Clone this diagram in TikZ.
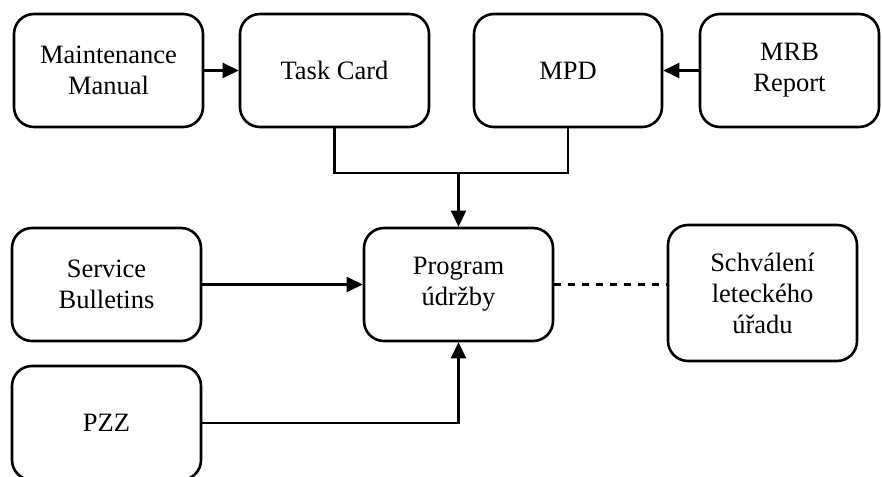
\documentclass[tikz,border=0pt]{standalone}
\usepackage{fontspec}
\setmainfont{Liberation Serif}
\usetikzlibrary{arrows.meta}
\begin{document}
\begin{tikzpicture}[x=1pt,y=-1pt,
  box/.style={draw=black, line width=2.6pt, rounded corners=20pt, fill=white,
    inner sep=0pt, align=center,
    font=\fontsize{26.5}{31}\selectfont},
  link/.style={line width=2.4pt, draw=black},
  arr/.style={link, -{Triangle[length=16pt,width=15pt]}},
  dashlink/.style={line width=2.3pt, dash pattern=on 7pt off 7pt}]
  \useasboundingbox (0,0) rectangle (882,476);
  \clip (0,0) rectangle (882,476);

  % upper row
  \node[box, minimum width=189pt, minimum height=113pt] (mm)  at (108.5,70.5) {Maintenance\\Manual};
  \node[box, minimum width=189pt, minimum height=113pt] (tc)  at (334.5,70.5) {Task Card};
  \node[box, minimum width=188pt, minimum height=113pt] (mpd) at (568,70.5) {MPD};
  \node[box, minimum width=179pt, minimum height=113pt] (mrb) at (789.5,70.5) {MRB\\Report};

  % middle row
  \node[box, minimum width=189pt, minimum height=113pt] (sb)   at (106.5,284.5) {Service\\Bulletins};
  \node[box, minimum width=189pt, minimum height=113pt] (prog) at (458.5,284.5) {Program\\údržby};
  \node[box, minimum width=189pt, minimum height=136pt] (sch)  at (762.5,293) {Schválení\\leteckého\\úřadu};

  % lower row
  \node[box, minimum width=189pt, minimum height=114pt] (pzz)  at (106.5,423) {PZZ};

  % connectors
  \draw[arr] (mm.east) -- (tc.west);
  \draw[arr] (mrb.west) -- (mpd.east);
  \coordinate (join) at (prog.north |- 0,173);
  \draw[link] (tc.south) -- (tc.south |- join) -- (mpd.south |- join) -- (mpd.south);
  \draw[arr] (join) -- (prog.north);
  \draw[arr] (sb.east |- prog.west) -- (prog.west);
  \draw[arr] (pzz.east) -| (prog.south);
  \draw[dashlink] (prog.east) -- (sch.west |- prog.east);
\end{tikzpicture}
\end{document}
